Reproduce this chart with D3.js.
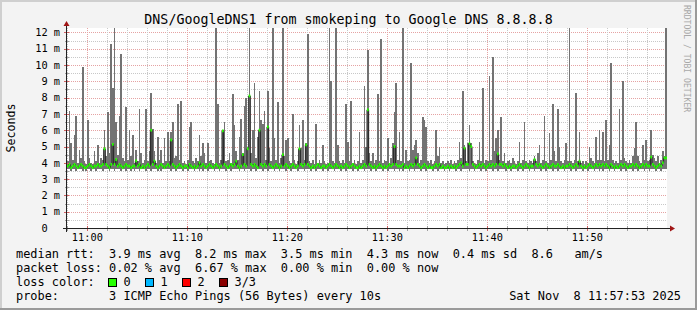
<!DOCTYPE html>
<html><head><meta charset="utf-8">
<script src="https://cdn.jsdelivr.net/npm/d3@7"></script>
<style>
html,body{margin:0;padding:0;background:#f3f3f3}
svg{display:block}
text{font-family:"DejaVu Sans Mono",monospace;white-space:pre}
</style>
</head><body>
<svg id="c" width="697" height="310"></svg>
<script>
const title = "DNS/GoogleDNS1 from smokeping to Google DNS 8.8.8.8";
const startTime = new Date(2025, 10, 8, 10, 57, 58);
const stepSeconds = 10;
const yTickValues = [0,1,2,3,4,5,6,7,8,9,10,11,12];
const yUnitLabel = "Seconds";
const watermark = "RRDTOOL / TOBI OETIKER";

const minRtt = [
3.6,3.6,3.5,3.6,3.6,3.5,3.6,3.6,3.6,3.5,3.6,3.5,3.6,3.6,3.5,3.6,3.6,3.5,3.6,3.6,
3.6,3.5,3.6,3.6,3.6,3.5,3.6,3.6,3.5,3.6,3.6,3.6,3.5,3.6,3.6,3.5,3.6,3.6,3.5,3.6,
3.5,3.6,3.6,3.5,3.6,3.6,3.6,3.5,3.6,3.6,3.5,3.6,3.6,3.6,3.5,3.6,3.5,3.6,3.6,3.6,
3.6,3.6,3.5,3.6,3.6,3.5,3.6,3.6,3.6,3.5,3.6,3.6,3.5,3.6,3.6,3.6,3.5,3.6,3.6,3.5,
3.6,3.5,3.6,3.6,3.5,3.6,3.6,3.6,3.5,3.6,3.6,3.5,3.6,3.6,3.6,3.5,3.6,3.6,3.5,3.6,
3.6,3.6,3.6,3.5,3.6,3.6,3.5,3.6,3.6,3.6,3.5,3.6,3.6,3.5,3.6,3.6,3.6,3.5,3.6,3.6,
3.5,3.6,3.6,3.6,3.5,3.6,3.6,3.5,3.6,3.6,3.6,3.5,3.6,3.6,3.5,3.6,3.6,3.6,3.5,3.6,
3.6,3.6,3.5,3.6,3.6,3.6,3.5,3.6,3.6,3.5,3.6,3.6,3.6,3.5,3.6,3.6,3.5,3.6,3.6,3.6,
3.5,3.6,3.6,3.6,3.5,3.6,3.6,3.5,3.6,3.6,3.6,3.5,3.6,3.6,3.5,3.6,3.6,3.6,3.5,3.6,
3.6,3.6,3.5,3.6,3.6,3.5,3.6,3.6,3.6,3.5,3.6,3.6,3.5,3.6,3.6,3.6,3.5,3.6,3.6,3.5,
3.6,3.5,3.6,3.6,3.6,3.5,3.6,3.6,3.5,3.6,3.6,3.6,3.5,3.6,3.6,3.5,3.6,3.6,3.6,3.5,
3.6,3.6,3.5,3.6,3.6,3.6,3.5,3.6,3.6,3.5,3.6,3.6,3.6,3.5,3.6,3.6,3.5,3.6,3.6,3.6,
3.6,3.5,3.6,3.6,3.5,3.6,3.6,3.6,3.5,3.6,3.6,3.5,3.6,3.6,3.6,3.5,3.6,3.6,3.5,3.6,
3.6,3.6,3.6,3.5,3.6,3.6,3.5,3.6,3.6,3.6,3.5,3.6,3.6,3.5,3.6,3.6,3.6,3.5,3.6,3.6,
3.5,3.6,3.6,3.6,3.5,3.6,3.6,3.5,3.6,3.6,3.6,3.5,3.6,3.6,3.5,3.6,3.6,3.6,3.5,3.6,
3.6,3.6,3.5,3.6,3.6,3.5,3.6,3.6,3.6,3.5,3.6,3.6,3.5,3.6,3.6,3.6,3.5,3.6,3.6,3.5,
3.6,3.5,3.6,3.6,3.6,3.5,3.6,3.6,3.5,3.6,3.6,3.6,3.5,3.6,3.6,3.5,3.6,3.6,3.6,3.5,
3.6,3.6,3.5,3.6,3.6,3.6,3.5,3.6,3.6,3.5,3.6,3.6,3.6,3.5,3.6,3.6,3.5,3.6,3.6,3.6
];

const medianRtt = [
3.8,3.9,3.7,3.8,3.9,3.8,3.7,3.8,3.9,3.8,3.7,3.7,3.8,3.9,3.8,3.7,3.8,3.8,3.9,3.8,
3.8,3.9,4.86,3.9,3.8,3.7,3.9,5.13,3.9,4.2,3.8,3.9,3.8,3.7,3.8,3.9,3.8,3.8,3.7,3.8,
3.8,4.12,3.8,3.9,3.7,3.8,3.7,3.8,3.9,3.8,6.0,3.9,4.1,3.8,3.7,3.8,3.9,3.8,3.7,3.8,
3.9,3.8,5.4,3.9,3.8,3.7,3.8,3.9,3.8,3.7,3.8,3.8,3.7,3.9,3.8,3.7,3.8,3.7,3.8,4.0,
3.8,3.9,3.8,3.7,3.8,3.9,3.8,3.7,3.8,3.9,3.8,3.7,3.8,5.96,3.9,3.8,3.7,3.8,3.9,3.8,
3.9,4.1,3.8,3.7,3.8,4.5,3.9,3.8,4.86,8.1,3.9,3.8,3.9,3.8,3.7,6.0,3.9,3.8,3.9,3.8,
6.2,3.9,3.8,3.7,3.8,3.9,3.8,3.7,3.8,4.5,3.8,3.9,3.8,3.7,3.8,3.9,3.8,3.7,3.8,4.86,
3.9,3.8,3.9,5.1,3.9,3.8,3.7,3.8,3.7,3.8,3.9,3.8,3.7,3.8,3.8,3.7,3.8,3.9,3.8,3.7,
3.8,3.9,3.8,3.7,3.8,3.7,3.8,3.9,3.8,3.7,3.8,3.9,3.8,3.7,3.7,3.8,3.7,3.8,3.9,3.8,
7.25,3.9,3.8,3.7,3.8,3.7,3.8,3.9,3.8,3.7,3.8,3.7,3.8,3.9,3.8,3.9,5.0,3.9,3.8,3.8,
3.8,3.9,3.7,3.8,3.7,3.8,3.9,3.8,3.9,4.3,3.9,3.8,3.7,3.8,3.9,3.8,3.7,3.8,3.7,3.7,
3.8,3.9,3.8,3.9,3.7,3.8,3.7,3.7,3.8,3.7,3.8,3.7,3.8,3.7,3.8,3.9,4.0,3.8,4.9,3.9,
3.9,5.17,5.0,3.9,3.8,3.7,3.8,3.9,3.8,3.9,3.8,3.7,3.8,3.9,3.8,3.9,3.8,3.9,4.55,3.9,
3.9,3.8,3.9,3.8,3.7,3.8,3.7,3.8,3.8,3.7,3.8,3.9,3.8,3.7,3.8,3.9,3.8,3.7,3.8,3.8,
4.2,3.9,3.8,3.9,3.8,3.7,3.8,3.9,3.8,3.7,3.8,3.9,3.8,3.8,3.9,3.8,3.7,3.8,3.7,3.8,
3.8,3.9,3.8,3.7,3.8,3.9,3.8,4.1,3.8,3.7,3.8,3.7,3.8,3.9,3.8,3.7,3.8,3.9,3.8,3.9,
3.8,3.9,3.8,3.9,3.8,3.7,3.9,3.8,3.7,3.8,3.7,3.8,3.9,3.8,3.9,3.8,3.7,3.8,3.8,3.9,
3.8,3.9,3.8,3.7,3.8,3.9,3.8,3.9,3.8,3.8,4.35,3.9,3.8,3.7,3.8,3.9,3.8,4.0,4.3,4.3
];

const maxRtt = [
4.1,7.2,5.2,4.2,5.7,6.9,4.0,4.8,4.3,9.9,4.1,3.9,6.6,4.3,4.0,3.9,4.7,4.1,5.1,4.0,
4.3,4.2,6.0,4.4,7.1,4.6,11.3,8.6,12.3,6.5,4.5,6.9,10.7,4.3,4.1,7.4,4.2,6.0,4.4,5.7,
4.0,4.8,4.1,7.3,4.6,4.0,4.2,7.3,4.1,4.7,8.3,6.1,4.7,4.0,5.6,4.2,4.8,4.0,5.5,4.1,
5.9,4.1,5.9,6.5,4.3,4.4,7.6,4.2,7.8,4.0,4.1,3.9,4.2,6.2,6.5,4.1,4.0,4.3,4.1,5.7,
4.4,5.2,4.6,4.0,5.2,4.1,4.2,4.0,3.9,12.3,7.6,4.0,4.2,6.0,6.5,4.1,4.2,4.6,4.0,8.2,
6.3,4.7,4.2,5.6,6.7,4.6,7.5,8.0,5.0,12.3,4.6,6.0,8.9,4.3,5.6,8.4,6.6,6.4,7.2,4.2,
8.4,4.9,4.1,12.3,5.5,4.2,7.7,4.0,4.3,12.3,4.4,5.4,5.5,4.1,4.0,7.0,4.2,3.9,4.1,6.3,
4.9,6.6,4.2,5.2,11.9,4.1,4.0,4.2,3.9,6.4,4.0,4.2,4.0,5.1,4.1,3.9,4.0,12.3,9.0,4.1,
4.0,12.3,5.1,4.1,4.0,4.2,4.0,7.6,5.3,4.1,7.8,4.0,4.2,3.9,4.1,5.9,4.0,4.2,8.7,5.0,
10.9,4.6,4.1,4.6,4.0,4.2,8.2,4.1,11.6,4.0,4.2,4.1,5.5,4.0,4.3,5.2,7.1,8.9,4.2,5.9,
4.1,12.3,4.0,4.8,4.1,4.2,10.1,4.8,5.1,5.4,4.6,4.0,4.2,6.8,6.6,6.2,4.1,4.0,4.2,3.9,
4.1,6.0,4.4,5.0,4.0,4.1,3.9,4.0,4.1,4.0,4.2,3.9,4.1,4.0,4.2,5.3,4.3,8.4,5.1,4.1,
5.2,6.3,5.2,4.1,4.0,3.9,4.2,5.3,4.1,8.6,4.0,4.2,4.1,9.3,4.2,10.5,4.7,5.5,6.0,4.2,
6.8,4.1,4.6,4.0,4.1,4.2,4.0,4.3,4.1,3.9,4.1,5.3,4.0,4.2,6.5,4.1,4.0,4.2,4.1,4.0,
4.4,4.1,4.6,5.1,4.0,4.2,6.9,4.1,4.0,5.8,4.2,7.6,4.7,4.1,7.3,5.0,4.1,4.0,4.2,5.2,
4.1,12.3,4.1,4.0,4.2,8.3,4.1,5.9,4.0,4.1,3.9,4.1,4.0,5.0,4.3,4.1,4.0,5.6,4.2,6.0,
4.2,5.9,4.1,6.6,4.2,5.1,10.1,4.2,4.0,4.1,4.0,7.3,4.2,9.0,4.3,4.1,4.0,4.2,4.0,4.4,
4.9,6.5,4.4,4.1,4.0,5.1,4.2,5.4,4.1,4.2,6.0,4.5,4.3,4.1,4.4,4.0,4.2,4.7,4.4,12.3
];

const legendRtt = "median rtt:  3.9 ms avg  8.2 ms max  3.5 ms min  4.3 ms now  0.4 ms sd  8.6   am/s";
const legendLoss = "packet loss: 0.02 % avg  6.67 % max  0.00 % min  0.00 % now";
const legendLossTitle = "loss color:";
const lossLabels = ["0", "1", "2", "3/3"];
const lossColors = ["#26ff00", "#00b8ff", "#ff0000", "#8a0000"];
const legendProbe = "probe:       3 ICMP Echo Pings (56 Bytes) every 10s";
const legendDate = "Sat Nov  8 11:57:53 2025";

// ---------- layout ----------
const W = 697, H = 310;
const L = 67, R = 667, T = 28, B = 228;
const svg = d3.select("#c");

svg.append("rect").attr("x",0).attr("y",0).attr("width",W).attr("height",H).attr("fill","#f3f3f3");
svg.append("rect").attr("x",0).attr("y",0).attr("width",W).attr("height",2).attr("fill","#cfcfcf");
svg.append("rect").attr("x",0).attr("y",0).attr("width",2).attr("height",H).attr("fill","#cfcfcf");
svg.append("rect").attr("x",0).attr("y",H-2).attr("width",W).attr("height",2).attr("fill","#9a9a9a");
svg.append("rect").attr("x",W-2).attr("y",0).attr("width",2).attr("height",H).attr("fill","#9a9a9a");

const endTime = new Date(startTime.getTime() + 3600 * 1000);
const x = d3.scaleTime().domain([startTime, endTime]).range([L, R]);
const y = d3.scaleLinear().domain([0, 12.27]).range([B, T]);

svg.append("rect").attr("x",L).attr("y",T).attr("width",R-L).attr("height",B-T).attr("fill","#ffffff");

svg.append("defs").append("clipPath").attr("id","clip")
  .append("rect").attr("x",L).attr("y",T).attr("width",R-L).attr("height",B-T);

const minorCol = "#c8c8c8", majorCol = "#e5a3a3";
const grid = svg.append("g").attr("shape-rendering","crispEdges");

const yMinor = d3.range(0.5, 12.27, 1);
grid.selectAll(".hmin").data(yMinor).join("line")
  .attr("x1",L).attr("x2",R)
  .attr("y1",d=>Math.round(y(d))+0.5).attr("y2",d=>Math.round(y(d))+0.5)
  .attr("stroke",minorCol).attr("stroke-dasharray","1,1");
grid.selectAll(".hmaj").data(yTickValues.filter(v=>v>0)).join("line")
  .attr("x1",L).attr("x2",R)
  .attr("y1",d=>Math.round(y(d))+0.5).attr("y2",d=>Math.round(y(d))+0.5)
  .attr("stroke",majorCol).attr("stroke-dasharray","1,1");

const xMinorTicks = x.ticks(d3.timeMinute.every(2)).filter(t=>t.getMinutes()%10!==0);
const xMajorTicks = x.ticks(d3.timeMinute.every(10));
grid.selectAll(".vmin").data(xMinorTicks).join("line")
  .attr("x1",d=>Math.round(x(d))+0.5).attr("x2",d=>Math.round(x(d))+0.5)
  .attr("y1",T).attr("y2",B)
  .attr("stroke",minorCol).attr("stroke-dasharray","1,1");
grid.selectAll(".vmaj").data(xMajorTicks).join("line")
  .attr("x1",d=>Math.round(x(d))+0.5).attr("x2",d=>Math.round(x(d))+0.5)
  .attr("y1",T).attr("y2",B)
  .attr("stroke",majorCol).attr("stroke-dasharray","1,1");

// ---------- data ----------
const samples = maxRtt.map((mx,i)=>({
  t0: new Date(startTime.getTime() + i*stepSeconds*1000),
  t1: new Date(startTime.getTime() + (i+1)*stepSeconds*1000),
  min: minRtt[i], med: medianRtt[i], max: mx
}));

const plot = svg.append("g").attr("clip-path","url(#clip)");
plot.selectAll(".smoke").data(samples).join("rect")
  .attr("x",d=>x(d.t0)).attr("width",d=>x(d.t1)-x(d.t0))
  .attr("y",d=>y(d.max)).attr("height",d=>y(d.min)-y(d.max))
  .attr("fill","#737373").attr("shape-rendering","crispEdges");

const linePts = samples.map(d=>[x(d.t0), y(d.med)]);
linePts.push([x(samples[samples.length-1].t1), y(samples[samples.length-1].med)]);
plot.append("path").attr("d", d3.line().curve(d3.curveStepAfter)(linePts))
  .attr("fill","none").attr("stroke","#202020").attr("stroke-width",1);

plot.selectAll(".med").data(samples).join("rect")
  .attr("x",d=>x(d.t0)).attr("width",d=>x(d.t1)-x(d.t0))
  .attr("y",d=>y(d.med)-1.4).attr("height",2.8)
  .attr("fill",lossColors[0]);

// ---------- axes ----------
const axis = svg.append("g").attr("shape-rendering","crispEdges");
axis.selectAll(".xtmin").data(xMinorTicks).join("line")
  .attr("x1",d=>Math.round(x(d))+0.5).attr("x2",d=>Math.round(x(d))+0.5)
  .attr("y1",B-2).attr("y2",B+3).attr("stroke","#a0a0a0");
axis.selectAll(".xtmaj").data(xMajorTicks).join("line")
  .attr("x1",d=>Math.round(x(d))+0.5).attr("x2",d=>Math.round(x(d))+0.5)
  .attr("y1",B-2).attr("y2",B+3).attr("stroke","#d06060");
axis.selectAll(".ytmaj").data(yTickValues.filter(v=>v>0)).join("line")
  .attr("x1",L-3).attr("x2",L+2)
  .attr("y1",d=>Math.round(y(d))+0.5).attr("y2",d=>Math.round(y(d))+0.5)
  .attr("stroke","#d06060");
axis.selectAll(".ytmin").data(yMinor).join("line")
  .attr("x1",L-2).attr("x2",L+2)
  .attr("y1",d=>Math.round(y(d))+0.5).attr("y2",d=>Math.round(y(d))+0.5)
  .attr("stroke","#a0a0a0");

axis.append("line").attr("x1",L-4).attr("x2",R+4).attr("y1",B+0.5).attr("y2",B+0.5).attr("stroke","#222");
axis.append("line").attr("x1",L-0.5).attr("x2",L-0.5).attr("y1",B+4).attr("y2",T-5).attr("stroke","#222");
svg.append("path").attr("d",`M${R+3},${B-2.5}L${R+8},${B+0.5}L${R+3},${B+3.5}Z`).attr("fill","#a01515");
svg.append("path").attr("d",`M${L-3.5},${T-2}L${L-0.5},${T-7}L${L+2.5},${T-2}Z`).attr("fill","#a01515");

svg.selectAll(".ylab").data(yTickValues).join("text")
  .attr("x",60).attr("y",d=>y(d)+3.7)
  .attr("text-anchor","end").attr("font-size","10.3px").attr("fill","#000")
  .text(d=> d===0 ? "0  " : `${d} m`);

svg.selectAll(".xlab").data(xMajorTicks).join("text")
  .attr("x",d=>x(d)).attr("y",240.5)
  .attr("text-anchor","middle").attr("font-size","10.3px").attr("fill","#000")
  .text(d3.timeFormat("%H:%M"));

svg.append("text").attr("x",348.5).attr("y",24).attr("text-anchor","middle")
  .attr("font-size","13.3px").attr("fill","#000").text(title);

svg.append("text").attr("transform",`translate(14.5,${(T+B)/2}) rotate(-90)`)
  .attr("text-anchor","middle").attr("font-size","11.6px").attr("fill","#000").text(yUnitLabel);

svg.append("text").attr("transform","translate(684,5) rotate(90)")
  .attr("text-anchor","start").attr("font-size","8.1px").attr("fill","#a8a8a8").text(watermark);

const lf = "11.9px";
svg.append("text").attr("x",16).attr("y",258).attr("font-size",lf).text(legendRtt);
svg.append("text").attr("x",16).attr("y",272).attr("font-size",lf).text(legendLoss);
svg.append("text").attr("x",16).attr("y",286).attr("font-size",lf).text(legendLossTitle);
const lossG = svg.append("g");
lossLabels.forEach((lab,k)=>{
  const bx = 108.5 + k*37;
  lossG.append("rect").attr("x",bx).attr("y",278.5).attr("width",8).attr("height",8)
    .attr("fill",lossColors[k]).attr("stroke","#000").attr("stroke-width",1)
    .attr("shape-rendering","crispEdges");
  lossG.append("text").attr("x",bx+15).attr("y",286).attr("font-size",lf).text(lab);
});
svg.append("text").attr("x",16).attr("y",300).attr("font-size",lf).text(legendProbe);
svg.append("text").attr("x",681).attr("y",300).attr("text-anchor","end").attr("font-size",lf).text(legendDate);
</script>
</body></html>
